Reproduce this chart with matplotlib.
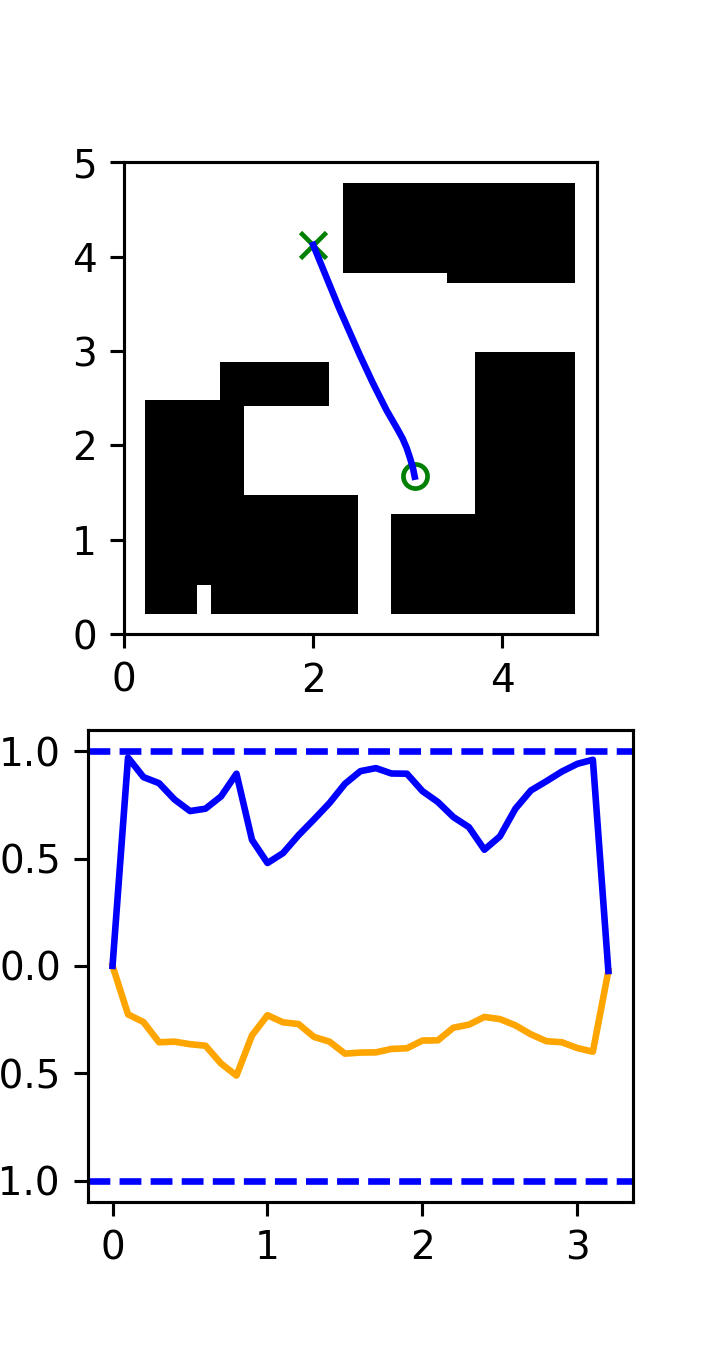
import matplotlib
matplotlib.use("Agg")
import matplotlib.pyplot as plt
from matplotlib.patches import Rectangle

# obstacles: left, bottom, right, top
obs_left = [0.222, 0.222, 0.916, 1.015, 2.82, 3.71, 2.315, 3.411]
obs_bottom = [0.526, 0.218, 0.218, 2.422, 0.218, 0.218, 3.823, 3.725]
obs_right = [1.269, 0.772, 2.47, 2.171, 3.71, 4.768, 4.768, 4.768]
obs_top = [2.479, 0.526, 1.476, 2.888, 1.278, 2.987, 4.784, 3.823]

path_x = [2.0, 2.273, 2.492, 2.632, 2.774, 2.896, 2.945, 2.988, 3.02, 3.052, 3.073]
path_y = [4.124, 3.457, 2.959, 2.659, 2.376, 2.164, 2.074, 1.974, 1.878, 1.772, 1.67]
goal = (2.0, 4.124)
start = (3.08, 1.68)

t = [i / 10 for i in range(33)]
upper = [0, 0.97, 0.879, 0.851, 0.775, 0.721, 0.732, 0.789, 0.895, 0.587, 0.479,
         0.525, 0.608, 0.682, 0.758, 0.848, 0.907, 0.921, 0.896, 0.895, 0.814,
         0.763, 0.693, 0.646, 0.541, 0.603, 0.732, 0.817, 0.86, 0.905, 0.941,
         0.96, -0.024]
lower = [0, -0.226, -0.262, -0.356, -0.353, -0.365, -0.372, -0.455, -0.511, -0.324,
         -0.23, -0.263, -0.271, -0.331, -0.353, -0.409, -0.404, -0.403, -0.387,
         -0.384, -0.348, -0.347, -0.288, -0.274, -0.238, -0.248, -0.277, -0.319,
         -0.351, -0.356, -0.383, -0.4, -0.024]
limits = [1.0, -1.0]

W, H = 703, 1350
DPI = 280
fig = plt.figure(figsize=(W / DPI, H / DPI), dpi=DPI)


def place(left, top, right, bottom):
    return [left / W, 1 - bottom / H, (right - left) / W, (bottom - top) / H]


ax1 = fig.add_axes(place(124.0, 162.3, 597.0, 634.3))
for l, b, r, tp in zip(obs_left, obs_bottom, obs_right, obs_top):
    ax1.add_patch(Rectangle((l, b), r - l, tp - b, color="black", lw=0))
ax1.plot(*goal, "x", color="green", ms=6.5, mew=1.2)
ax1.plot(*start, "o", color="green", mfc="none", ms=6.2, mew=1.2)
ax1.plot(path_x, path_y, color="blue", lw=1.7)
ax1.set_xlim(0, 5)
ax1.set_ylim(0, 5)
ax1.set_xticks([0, 2, 4])
ax1.set_yticks([0, 1, 2, 3, 4, 5])

ax2 = fig.add_axes(place(88.2, 729.7, 633.0, 1202.0))
ax2.plot(t, lower, color="orange", lw=1.7)
ax2.plot(t, upper, color="blue", lw=1.7)
for y in limits:
    ax2.axhline(y, color="blue", linestyle=(0, (3.3, 1.4)), lw=1.7)
ax2.set_xlim(-0.157, 3.359)
ax2.set_ylim(-1.1, 1.1)
ax2.set_xticks([0, 1, 2, 3])
ax2.set_yticks([-1.0, -0.5, 0.0, 0.5, 1.0])

fig.savefig("out.png", dpi=DPI)
